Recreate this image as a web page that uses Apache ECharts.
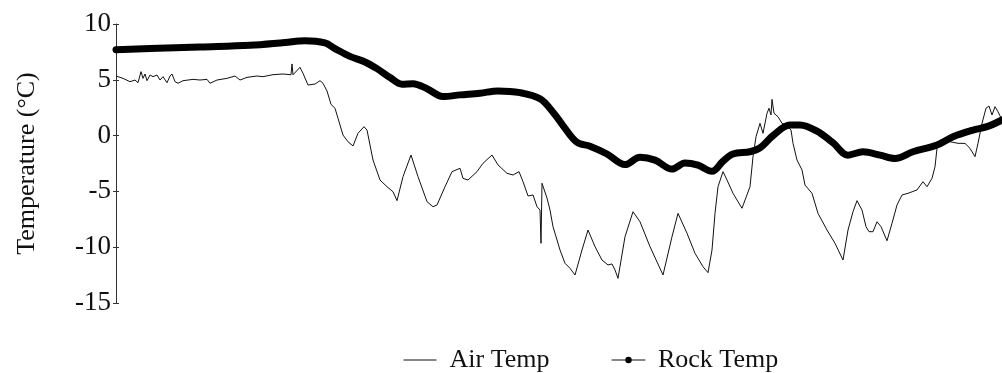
<!DOCTYPE html>
<html>
<head>
<meta charset="utf-8">
<script src="https://cdn.jsdelivr.net/npm/echarts@6/dist/echarts.min.js"></script>
<style>
  html, body { margin: 0; padding: 0; background: #fff; }
  #chart { width: 1002px; height: 373px; }
</style>
</head>
<body>
<div id="chart"></div>
<script>
// Elapsed time (hours) and measured temperatures (°C)
const airHours = [0, 7, 14, 19, 22, 25, 27, 29, 31, 34, 37, 41, 44, 47, 51, 54, 56, 59, 62, 67,
  77, 84, 91, 94, 101, 111, 119, 124, 131, 141, 147, 157, 167, 175, 176, 177, 179, 184, 187, 192,
  199, 204, 207, 211, 215, 219, 227, 232, 237, 242, 248, 251, 257, 264, 271, 277, 281, 287, 295, 302,
  311, 317, 321, 329, 336, 344, 347, 352, 361, 367, 376, 382, 391, 397, 403, 407, 412, 417, 421, 424,
  425, 426, 431, 434, 437, 444, 449, 454, 459, 466, 472, 479, 486, 492, 496, 499, 502, 509, 517, 524,
  534, 547, 556, 562, 571, 579, 587, 592, 596, 599, 602, 607, 611, 617, 626, 634, 637, 640, 644, 647,
  651, 653, 655, 656, 658, 660, 662, 666, 671, 675, 677, 681, 686, 689, 696, 702, 711, 719, 727, 732,
  737, 741, 746, 750, 753, 757, 761, 765, 771, 776, 781, 786, 792, 801, 807, 811, 816, 819, 821, 824,
  834, 842, 849, 854, 859, 862, 866, 870, 873, 876, 879, 882, 886];
const airTemp = [5.34, 5.13, 4.83, 4.98, 4.74, 5.73, 5.13, 5.52, 4.92, 5.43, 5.28, 5.43, 4.98, 5.28, 4.74, 5.34, 5.52, 4.83, 4.69, 4.92,
  5.04, 4.98, 5.04, 4.69, 4.98, 5.13, 5.34, 4.98, 5.22, 5.34, 5.28, 5.46, 5.52, 5.45, 6.42, 5.45, 5.45, 6.12, 5.58, 4.53,
  4.62, 4.92, 4.69, 4.0, 2.8, 2.45, 0.05, -0.55, -0.93, 0.21, 0.8, 0.5, -2.19, -3.98, -4.58, -5.03, -5.83, -3.68, -1.74, -3.68,
  -5.92, -6.37, -6.22, -4.58, -3.23, -2.93, -3.83, -3.98, -3.23, -2.48, -1.74, -2.63, -3.38, -3.53, -3.23, -4.13, -5.41, -5.32, -6.37, -6.67,
  -9.65, -4.27, -5.6, -6.67, -8.16, -10.25, -11.44, -11.89, -12.49, -10.25, -8.46, -9.95, -11.15, -11.59, -11.5, -12.04, -12.79, -9.06, -6.82, -7.72,
  -9.95, -12.49, -9.06, -6.97, -8.75, -10.55, -11.75, -12.28, -10.25, -6.97, -4.58, -3.23, -3.98, -5.17, -6.51, -4.58, -1.89, -0.1, 1.1, 0.21,
  2.0, 2.45, 1.85, 3.25, 2.0, 2.14, 1.69, 1.1, 0.86, 0.5, -0.69, -2.19, -3.08, -4.43, -5.17, -6.97, -8.46, -9.65, -11.15, -8.46,
  -6.82, -5.83, -6.67, -8.16, -8.61, -8.61, -7.72, -8.16, -9.42, -7.86, -6.22, -5.32, -5.17, -4.87, -4.13, -4.58, -3.83, -2.79, -1.14, -0.39,
  -0.55, -0.69, -0.7, -1.14, -1.89, -0.69, 1.1, 2.45, 2.65, 1.85, 2.59, 2.14, 1.4];

const rockHours = [0, 34, 84, 134, 169, 189, 209, 219, 234, 249, 261, 274, 286, 297, 311, 327, 344, 364, 382, 404,
  424, 437, 447, 461, 474, 491, 509, 524, 539, 556, 569, 582, 596, 607, 617, 634, 644, 657, 674, 684,
  701, 717, 732, 747, 764, 779, 797, 821, 837, 857, 871, 886];
const rockTemp = [7.7, 7.8, 7.95, 8.1, 8.35, 8.5, 8.3, 7.8, 7.1, 6.6, 6.0, 5.2, 4.6, 4.65, 4.2, 3.5, 3.65, 3.8, 4.0, 3.85,
  3.3, 2.1, 0.9, -0.6, -0.95, -1.65, -2.6, -1.95, -2.2, -3.0, -2.45, -2.65, -3.2, -2.3, -1.65, -1.45, -1.1, 0.0, 0.95, 0.95,
  0.4, -0.65, -1.75, -1.45, -1.75, -2.05, -1.45, -0.85, -0.1, 0.5, 0.8, 1.4];

const yTicks = { min: -15, max: 10, step: 5 };
const seriesNames = ['Air Temp', 'Rock Temp'];

const pairs = (xs, ys) => xs.map((x, i) => [x, ys[i]]);
const serif = '"Liberation Serif", "Times New Roman", serif';

const chart = echarts.init(document.getElementById('chart'), null, { renderer: 'canvas' });
chart.setOption({
  animation: false,
  backgroundColor: '#fff',
  grid: { left: 116, right: 0, top: 24, bottom: 70, containLabel: false },
  xAxis: {
    type: 'value', min: 0, max: airHours[airHours.length - 1], show: false
  },
  yAxis: [{
    type: 'value', min: yTicks.min, max: yTicks.max, interval: yTicks.step,
    name: 'Temperature (°C)', nameLocation: 'middle', nameGap: 76, nameRotate: 90,
    nameTextStyle: { fontFamily: serif, fontSize: 26, color: '#111' },
    axisLine: { show: true, lineStyle: { color: '#333', width: 1 } },
    axisTick: { show: true, length: 3, lineStyle: { color: '#333' } },
    axisLabel: { fontFamily: serif, fontSize: 27, color: '#111', margin: 5 },
    splitLine: { show: false }
  }, {
    type: 'value', min: yTicks.min, max: yTicks.max, interval: yTicks.step, position: 'left',
    axisLine: { show: false },
    axisTick: { show: true, inside: true, length: 3, lineStyle: { color: '#333' } },
    axisLabel: { show: false },
    splitLine: { show: false }
  }],
  legend: {
    data: [
      { name: seriesNames[0], itemStyle: { color: 'transparent', borderWidth: 0 },
        lineStyle: { color: '#111', width: 1 } },
      { name: seriesNames[1], lineStyle: { color: '#111', width: 1 } }
    ],
    left: 398, top: 342,
    itemWidth: 33, itemHeight: 8, itemGap: 62,
    textStyle: { fontFamily: serif, fontSize: 26, color: '#111', padding: [0, 0, 0, 8] }
  },
  series: [{
    name: seriesNames[0], type: 'line', data: pairs(airHours, airTemp),
    symbol: 'none', lineStyle: { color: '#111', width: 1 }, itemStyle: { color: '#111' }
  }, {
    name: seriesNames[1], type: 'line', data: pairs(rockHours, rockTemp),
    symbol: 'circle', showSymbol: false, smooth: 0.35,
    lineStyle: { color: '#000', width: 7, cap: 'round', join: 'round' }, itemStyle: { color: '#000' }
  }]
});
</script>
</body>
</html>
